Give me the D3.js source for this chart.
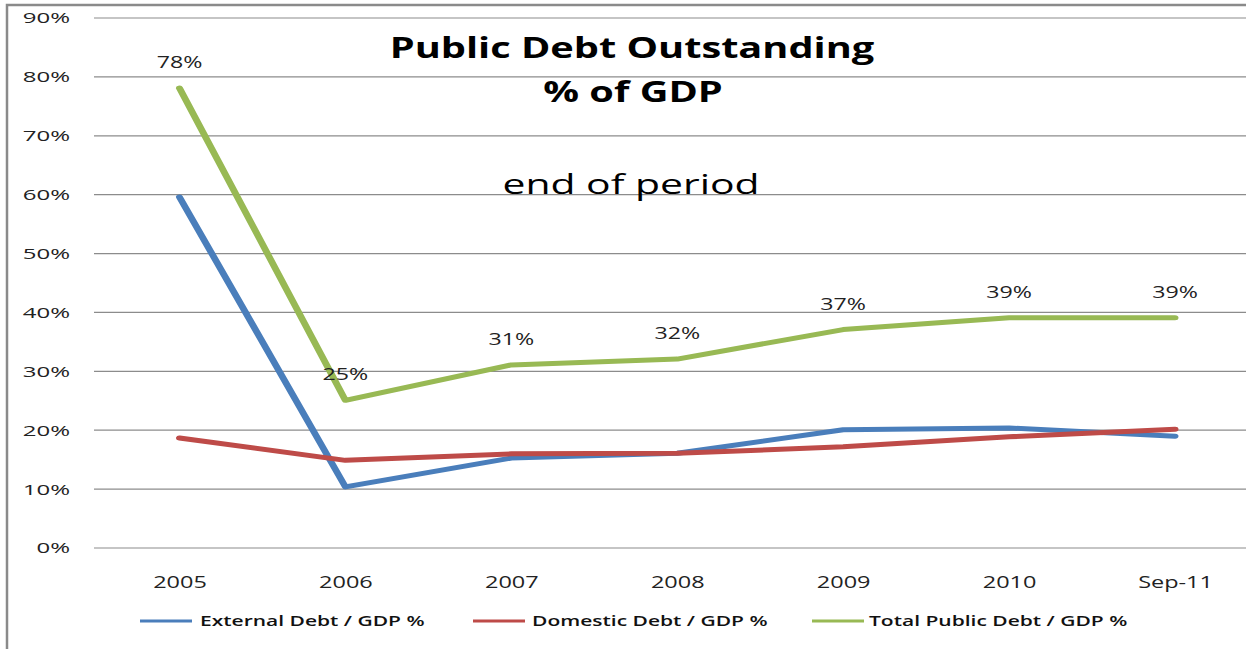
<!DOCTYPE html>
<html>
<head>
<meta charset="utf-8">
<script src="https://cdn.jsdelivr.net/npm/d3@7"></script>
<style>
  html, body { margin: 0; padding: 0; background: #fff; }
  svg { display: block; font-family: "Open Sans", sans-serif; }
</style>
</head>
<body>
<svg id="chart" width="1246" height="649"></svg>
<script>
// Public debt outstanding as % of GDP, end of period
const categories = ["2005", "2006", "2007", "2008", "2009", "2010", "Sep-11"];
const externalDebt = [59.5, 10.3, 15.2, 16.0, 20.0, 20.3, 18.9];
const domesticDebt = [18.6, 14.8, 15.9, 16.0, 17.1, 18.8, 20.1];
const totalDebt = [78, 25, 31, 32, 37, 39, 39];
const yTicks = [0, 10, 20, 30, 40, 50, 60, 70, 80, 90];
const seriesNames = ["External Debt / GDP %", "Domestic Debt / GDP %", "Total Public Debt / GDP %"];
const seriesColors = ["#4a7ebb", "#be4b48", "#98b954"];

const svg = d3.select("#chart");

// outer chart frame
svg.append("rect")
  .attr("x", 7).attr("y", 5)
  .attr("width", 1260).attr("height", 660)
  .attr("fill", "#fff")
  .attr("stroke", "#8a8a8a")
  .attr("stroke-width", 2.5);

const plotLeft = 94, plotRight = 1250;
const x = d3.scalePoint().domain(categories).range([179.5, 1175]);
const y = d3.scaleLinear().domain([0, 90]).range([547.5, 17.5]);

// the sheet is drawn horizontally widened: text and line strokes share this stretch
const SX_LINE = 1.4;
const SX_TICK = 1.6, SX_CAT = 1.38, SX_LABEL = 1.45, SX_LEGEND = 1.4, SX_TITLE = 1.37, SX_SUB = 1.46;

// y axis with gridlines
const yAxis = svg.append("g")
  .attr("transform", `translate(${plotLeft},0)`)
  .call(d3.axisLeft(y).tickValues(yTicks).tickFormat(d => d + "%")
    .tickSize(-(plotRight - plotLeft)).tickPadding(0));
yAxis.select(".domain").remove();
yAxis.selectAll(".tick line").attr("stroke", "#8c8c8c").attr("stroke-width", 1.2);
yAxis.selectAll(".tick text")
  .attr("font-family", "Open Sans").attr("font-size", 15).attr("fill", "#222")
  .attr("x", -24 / SX_TICK).attr("dy", "0.36em")
  .attr("transform", `scale(${SX_TICK},1)`);

// x axis category labels
const xAxis = svg.append("g")
  .attr("transform", `translate(0,${y(0)})`)
  .call(d3.axisBottom(x).tickSize(0).tickPadding(28));
xAxis.select(".domain").remove();
xAxis.selectAll(".tick text")
  .attr("font-family", "Open Sans").attr("font-size", 17).attr("fill", "#222")
  .attr("transform", `scale(${SX_CAT},1)`);

// series lines, drawn in the widened frame so steep segments read thicker
const series = [externalDebt, domesticDebt, totalDebt];
const line = d3.line()
  .x((d, i) => x(categories[i]) / SX_LINE)
  .y(d => y(d));

svg.append("g")
  .attr("transform", `scale(${SX_LINE},1)`)
  .selectAll("path")
  .data(series)
  .join("path")
  .attr("d", d => line(d))
  .attr("fill", "none")
  .attr("stroke", (d, i) => seriesColors[i])
  .attr("stroke-width", 5)
  .attr("stroke-linejoin", "round")
  .attr("stroke-linecap", "round");

// value labels on the total line
svg.append("g").selectAll("g")
  .data(totalDebt)
  .join("g")
  .attr("transform", (d, i) => `translate(${x(categories[i])},${y(d) - 20})`)
  .append("text")
  .attr("transform", `scale(${SX_LABEL},1)`)
  .attr("text-anchor", "middle")
  .attr("font-size", 16)
  .attr("fill", "#222")
  .text(d => d + "%");

// title block
function stretchedText(tx, ty, sx, txt, size, weight) {
  svg.append("g").attr("transform", `translate(${tx},${ty})`)
    .append("text")
    .attr("transform", `scale(${sx},1)`)
    .attr("text-anchor", "middle")
    .attr("font-size", size)
    .attr("font-weight", weight)
    .attr("fill", "#000")
    .text(txt);
}
stretchedText(632, 58, SX_TITLE, "Public Debt Outstanding", 29, 700);
stretchedText(633, 102, SX_TITLE, "% of GDP", 29, 700);
stretchedText(631, 194, SX_SUB, "end of period", 28, 400);

// legend
const legendItems = [
  { x0: 140, x1: 192, tx: 200 },
  { x0: 473, x1: 525, tx: 532 },
  { x0: 812, x1: 864, tx: 869 }
];
const legendY = 621;
const lg = svg.append("g").selectAll("g")
  .data(seriesNames)
  .join("g");
lg.append("line")
  .attr("x1", (d, i) => legendItems[i].x0)
  .attr("x2", (d, i) => legendItems[i].x1)
  .attr("y1", legendY).attr("y2", legendY)
  .attr("stroke", (d, i) => seriesColors[i])
  .attr("stroke-width", 3);
lg.append("g")
  .attr("transform", (d, i) => `translate(${legendItems[i].tx},${legendY + 5})`)
  .append("text")
  .attr("transform", `scale(${SX_LEGEND},1)`)
  .attr("font-size", 15)
  .attr("font-weight", 600)
  .attr("fill", "#111")
  .text(d => d);
</script>
</body>
</html>
